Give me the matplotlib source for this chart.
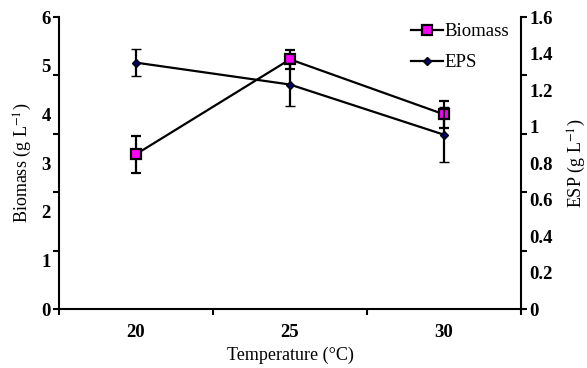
import numpy as np
import matplotlib
matplotlib.use('Agg')
import matplotlib.pyplot as plt
from matplotlib.lines import Line2D

# Daten
temps = ['20', '25', '30']
biomass = [3.18, 5.13, 4.0]
biomass_err = [0.38, 0.2, 0.28]
eps = [1.35, 1.23, 0.955]
eps_err = [0.075, 0.12, 0.15]

plt.rcParams['font.family'] = ['Liberation Serif', 'DejaVu Serif']
plt.rcParams['mathtext.fontset'] = 'stix'
plt.rcParams['font.size'] = 13.5

fig = plt.figure(figsize=(5.87, 3.68), dpi=100)
ax = fig.add_axes([0.1005, 0.1603, 0.787, 0.7935])
ax2 = ax.twinx()

x = np.arange(1, len(temps) + 1)

bio_style = dict(color='black', lw=1.6, marker='s', markersize=6.5,
                 markerfacecolor='#ff00ff', markeredgecolor='black', markeredgewidth=1.6)
eps_style = dict(color='black', lw=1.6, marker='D', markersize=4.5,
                 markerfacecolor='#000066', markeredgecolor='black', markeredgewidth=1.0)

# Biomasse (linke Achse)
ax.errorbar(x, biomass, yerr=biomass_err, elinewidth=1.6, capsize=3.5,
            capthick=1.6, ecolor='black', **bio_style)

# EPS (rechte Achse)
ax2.errorbar(x, eps, yerr=eps_err, elinewidth=1.6, capsize=3.5,
             capthick=1.6, ecolor='black', **eps_style)

ax.set_xlim(0.5, 3.5)
ax.set_ylim(0, 6)
ax2.set_ylim(0, 1.6)

for axis in (ax.xaxis, ax.yaxis, ax2.yaxis):
    axis.remove_overlapping_locs = False

# x-Achse: Striche zwischen den Kategorien, Beschriftung in der Mitte
ax.set_xticks([0.5, 1.5, 2.5, 3.5])
ax.set_xticklabels([])
ax.set_xticks(x, minor=True)
ax.set_xticklabels(temps, minor=True, fontweight='bold')

# Striche und Beschriftungen liegen nicht auf denselben Werten
ax.set_yticks(np.linspace(0, 6, 6))
ax.set_yticklabels([])
ax.set_yticks(range(0, 7), minor=True)
ax.set_yticklabels([str(v) for v in range(0, 7)], minor=True, fontweight='bold')

ax2.set_yticks(np.linspace(0, 1.6, 6))
ax2.set_yticklabels([])
r_ticks = [0, 0.2, 0.4, 0.6, 0.8, 1.0, 1.2, 1.4, 1.6]
ax2.set_yticks(r_ticks, minor=True)
ax2.set_yticklabels(['0', '0.2', '0.4', '0.6', '0.8', '1', '1.2', '1.4', '1.6'],
                    minor=True, fontweight='bold')

ax.tick_params(axis='both', which='major', direction='out', length=4.5, width=1.5)
ax.tick_params(axis='y', which='minor', length=0, pad=6)
ax.tick_params(axis='x', which='minor', length=0, pad=11)
ax2.tick_params(axis='y', which='major', direction='out', length=4.5, width=1.5)
ax2.tick_params(axis='y', which='minor', length=0, pad=6)

for a in (ax, ax2):
    for s in a.spines.values():
        s.set_linewidth(1.5)
    a.spines['top'].set_visible(False)
ax.spines['right'].set_visible(False)
ax2.spines['left'].set_visible(False)
ax2.spines['bottom'].set_visible(False)

ax.set_xlabel('Temperature (°C)', fontsize=13, labelpad=4)
ax.set_ylabel('Biomass (g L$^{-1}$)', fontsize=13, labelpad=5)
ax2.set_ylabel('ESP (g L$^{-1}$)', fontsize=13, labelpad=9)

handles = [Line2D([], [], **bio_style), Line2D([], [], **eps_style)]
ax2.legend(handles, ['Biomass', 'EPS'], loc='upper right',
           bbox_to_anchor=(0.99, 1.005), frameon=False, fontsize=13.5,
           handlelength=1.7, handletextpad=0.05, labelspacing=0.75,
           borderaxespad=0.0)

fig.savefig('out.png', dpi=100)
